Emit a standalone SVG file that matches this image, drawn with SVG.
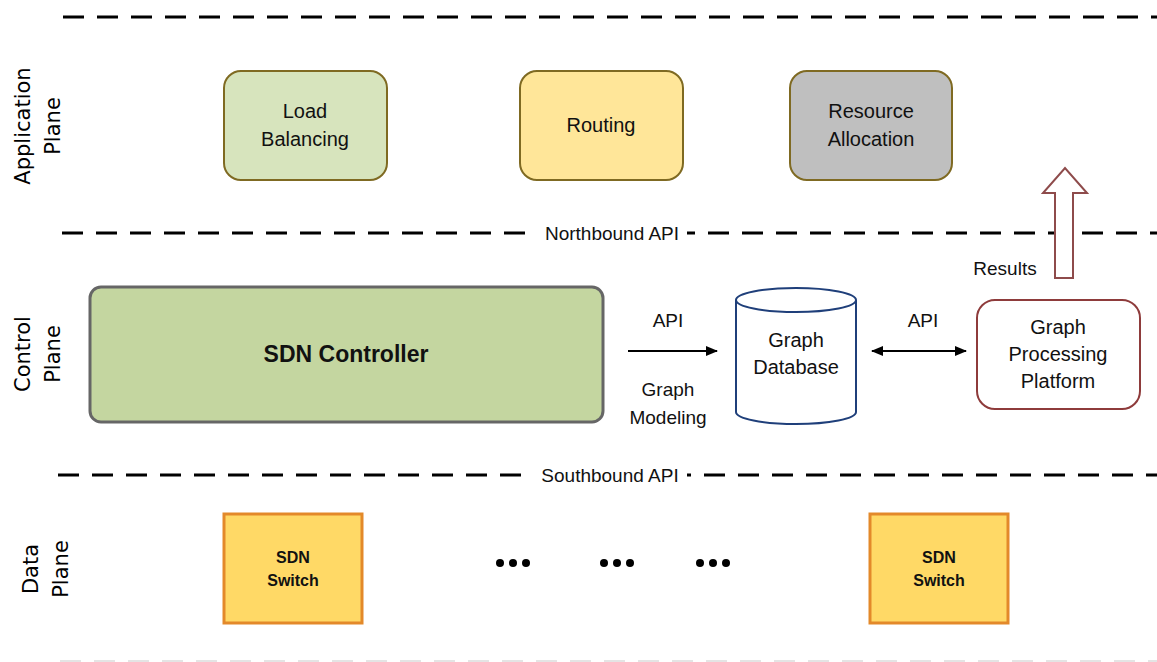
<svg xmlns="http://www.w3.org/2000/svg" width="1157" height="662" viewBox="0 0 1157 662">
  <defs>
    <marker id="arrowHead" viewBox="0 0 12 10" refX="11" refY="5" markerWidth="12" markerHeight="10" markerUnits="userSpaceOnUse" orient="auto-start-reverse">
      <path d="M0,0 L12,5 L0,10 Z" fill="#000"/>
    </marker>
    <style>
      .sep { stroke: #000; stroke-width: 3; stroke-dasharray: 21 13; fill: none; }
      .sep-faint { stroke: #e4e4e4; stroke-width: 2; stroke-dasharray: 21 13; fill: none; }
      .plane { font-family: "DejaVu Sans", sans-serif; font-size: 21px; fill: #000; text-anchor: middle; }
      .label { font-family: "Liberation Sans", Arial, sans-serif; font-size: 20px; fill: #111; text-anchor: middle; }
      .api { font-family: "Liberation Sans", Arial, sans-serif; font-size: 19px; fill: #111; text-anchor: middle; }
      .app { stroke: #7f6a22; stroke-width: 2; }
      .switch { fill: #ffd966; stroke: #e3892a; stroke-width: 3; }
      .switch-text { font-family: "Liberation Sans", Arial, sans-serif; font-size: 16px; font-weight: bold; fill: #111; text-anchor: middle; }
      .link { stroke: #000; stroke-width: 2; fill: none; }
    </style>
  </defs>

  <rect width="1157" height="662" fill="#fff"/>

  <!-- plane separators -->
  <line class="sep" x1="63" y1="17" x2="1157" y2="17"/>
  <line class="sep" x1="62" y1="233" x2="1157" y2="233"/>
  <rect x="533" y="222" width="154" height="22" fill="#fff"/>
  <text class="api" x="612" y="240">Northbound API</text>
  <line class="sep" x1="58" y1="475" x2="1157" y2="475"/>
  <rect x="529" y="464" width="158" height="22" fill="#fff"/>
  <text class="api" x="610" y="482">Southbound API</text>
  <line class="sep-faint" x1="60" y1="661" x2="1157" y2="661"/>

  <!-- plane titles -->
  <text class="plane" transform="translate(30,126) rotate(-90)">Application<tspan x="0" dy="30">Plane</tspan></text>
  <text class="plane" transform="translate(30,354) rotate(-90)">Control<tspan x="0" dy="30">Plane</tspan></text>
  <text class="plane" transform="translate(38,569) rotate(-90)">Data<tspan x="0" dy="30">Plane</tspan></text>

  <!-- application plane -->
  <g id="load-balancing">
    <rect class="app" x="224" y="71" width="163" height="109" rx="17" fill="#d7e4bd"/>
    <text class="label" x="305" y="118">Load</text>
    <text class="label" x="305" y="146">Balancing</text>
  </g>
  <g id="routing">
    <rect class="app" x="520" y="71" width="163" height="109" rx="17" fill="#ffe699"/>
    <text class="label" x="601" y="132">Routing</text>
  </g>
  <g id="resource-allocation">
    <rect class="app" x="790" y="71" width="162" height="109" rx="17" fill="#bfbfbf"/>
    <text class="label" x="871" y="118">Resource</text>
    <text class="label" x="871" y="146">Allocation</text>
  </g>

  <!-- control plane -->
  <g id="sdn-controller">
    <rect x="90" y="287" width="513" height="135" rx="11" fill="#c4d6a0" stroke="#666" stroke-width="3"/>
    <text x="346" y="362" font-family="Liberation Sans, Arial, sans-serif" font-size="23" font-weight="bold" fill="#111" text-anchor="middle">SDN Controller</text>
  </g>
  <g id="graph-database">
    <path d="M736,300 L736,412 A60,12 0 0 0 856,412 L856,300" fill="#fff" stroke="#1f3f7a" stroke-width="2"/>
    <ellipse cx="796" cy="300" rx="60" ry="12" fill="#fff" stroke="#1f3f7a" stroke-width="2"/>
    <text class="label" x="796" y="347">Graph</text>
    <text class="label" x="796" y="374">Database</text>
  </g>
  <g id="graph-processing-platform">
    <rect x="977" y="300" width="163" height="109" rx="18" fill="#fff" stroke="#8e3b3b" stroke-width="2"/>
    <text class="label" x="1058" y="334">Graph</text>
    <text class="label" x="1058" y="361">Processing</text>
    <text class="label" x="1058" y="388">Platform</text>
  </g>

  <!-- data plane -->
  <g id="sdn-switch-1">
    <rect class="switch" x="224" y="514" width="138" height="109"/>
    <text class="switch-text" x="293" y="563">SDN</text>
    <text class="switch-text" x="293" y="586">Switch</text>
  </g>
  <g id="sdn-switch-2">
    <rect class="switch" x="870" y="514" width="138" height="109"/>
    <text class="switch-text" x="939" y="563">SDN</text>
    <text class="switch-text" x="939" y="586">Switch</text>
  </g>
  <g id="ellipsis" fill="#000">
    <circle cx="500" cy="563" r="4"/><circle cx="513" cy="563" r="4"/><circle cx="526" cy="563" r="4"/>
    <circle cx="604" cy="563" r="4"/><circle cx="617" cy="563" r="4"/><circle cx="630" cy="563" r="4"/>
    <circle cx="700" cy="563" r="4"/><circle cx="713" cy="563" r="4"/><circle cx="726" cy="563" r="4"/>
  </g>

  <!-- connectors -->
  <g id="connectors">
    <line class="link" x1="628" y1="351" x2="717" y2="351" marker-end="url(#arrowHead)"/>
    <text class="api" x="668" y="327">API</text>
    <text class="api" x="668" y="396">Graph</text>
    <text class="api" x="668" y="424">Modeling</text>

    <line class="link" x1="872" y1="351" x2="966" y2="351" marker-start="url(#arrowHead)" marker-end="url(#arrowHead)"/>
    <text class="api" x="923" y="327">API</text>

    <path d="M1055,278 L1055,193 L1043,193 L1065,168 L1087,193 L1073,193 L1073,278 Z" fill="#fff" stroke="#8e4b4b" stroke-width="2"/>
    <text class="api" x="1005" y="275">Results</text>
  </g>
</svg>
